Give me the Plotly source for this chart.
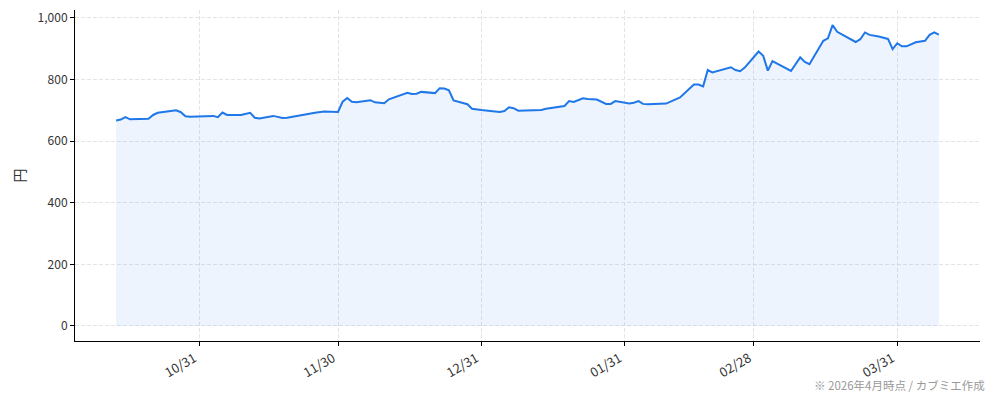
import pandas as pd
import plotly.graph_objects as go

# 株価の推移（チャートから読み取った値）
dates = [
    "2025-10-13", "2025-10-14", "2025-10-15", "2025-10-16", "2025-10-20", "2025-10-21",
    "2025-10-22", "2025-10-26", "2025-10-27", "2025-10-28", "2025-10-29", "2025-11-03",
    "2025-11-04", "2025-11-05", "2025-11-06", "2025-11-09", "2025-11-11", "2025-11-12",
    "2025-11-13", "2025-11-16", "2025-11-18", "2025-11-19", "2025-11-25", "2025-11-26",
    "2025-11-27", "2025-11-30", "2025-12-01", "2025-12-02", "2025-12-03", "2025-12-04",
    "2025-12-07", "2025-12-08", "2025-12-10", "2025-12-11", "2025-12-14", "2025-12-15",
    "2025-12-16", "2025-12-17", "2025-12-18", "2025-12-21", "2025-12-22", "2025-12-23",
    "2025-12-24", "2025-12-25", "2025-12-28", "2025-12-29", "2025-12-31", "2026-01-04",
    "2026-01-05", "2026-01-06", "2026-01-07", "2026-01-08", "2026-01-13", "2026-01-14",
    "2026-01-18", "2026-01-19", "2026-01-20", "2026-01-22", "2026-01-23", "2026-01-25",
    "2026-01-27", "2026-01-28", "2026-01-29", "2026-02-01", "2026-02-02", "2026-02-03",
    "2026-02-04", "2026-02-05", "2026-02-09", "2026-02-11", "2026-02-12", "2026-02-15",
    "2026-02-16", "2026-02-17", "2026-02-18", "2026-02-19", "2026-02-23", "2026-02-24",
    "2026-02-25", "2026-02-26", "2026-03-01", "2026-03-02", "2026-03-03", "2026-03-04",
    "2026-03-08", "2026-03-10", "2026-03-11", "2026-03-12", "2026-03-15", "2026-03-16",
    "2026-03-17", "2026-03-18", "2026-03-22", "2026-03-23", "2026-03-24", "2026-03-25",
    "2026-03-27", "2026-03-29", "2026-03-30", "2026-03-31", "2026-04-01", "2026-04-02",
    "2026-04-04", "2026-04-06", "2026-04-07", "2026-04-08", "2026-04-09",
]
prices = [
    667, 670, 678, 671, 673, 685,
    692, 700, 694, 681, 679, 682,
    678, 693, 685, 685, 692, 676,
    674, 682, 675, 676, 692, 693,
    696, 695, 728, 740, 728, 726,
    733, 726, 723, 736, 752, 757,
    753, 754, 760, 756, 772, 771,
    765, 732, 720, 705, 701, 695,
    698, 710, 707, 699, 701, 705,
    714, 730, 727, 739, 737, 735,
    721, 721, 730, 722, 725, 730,
    721, 720, 722, 735, 742, 784,
    784, 778, 831, 823, 840, 831,
    827, 839, 891, 877, 829, 860,
    828, 872, 857, 850, 926, 934,
    977, 955, 922, 931, 953, 945,
    940, 932, 899, 918, 908, 908,
    921, 926, 945, 953, 946,
]

tick_dates = ["2025-10-31", "2025-11-30", "2025-12-31", "2026-01-31", "2026-02-28", "2026-03-31"]
y_ticks = [0, 200, 400, 600, 800, 1000]

df = pd.DataFrame({"date": pd.to_datetime(dates), "price": prices})

# matplotlib風の5%マージン
span = df["date"].max() - df["date"].min()
x_range = [df["date"].min() - span * 0.05, df["date"].max() + span * 0.05]
ymax = df["price"].max()
y_range = [-ymax * 0.05, ymax * 1.05]

fig = go.Figure()
fig.add_trace(go.Scatter(
    x=df["date"], y=df["price"],
    mode="lines",
    line=dict(color="#1f77e8", width=2),
    fill="tozeroy",
    fillcolor="rgba(31,119,232,0.08)",
    showlegend=False,
))

# ページの余白(8px)を差し引いたサイズ
fig.update_layout(
    width=978, height=385,
    margin=dict(l=67, r=6, t=2, b=52),
    paper_bgcolor="white",
    plot_bgcolor="white",
    font=dict(family="Noto Sans CJK JP", size=12, color="#333333"),
    annotations=[dict(
        text="※ 2026年4月時点 / カブミエ作成",
        xref="paper", yref="paper", x=1.008, y=-0.133,
        xanchor="right", yanchor="middle", showarrow=False,
        font=dict(size=11.5, color="#999999"),
    )],
)

grid = dict(showgrid=True, gridcolor="#e4e4e4", griddash="4px,2px", gridwidth=1)

fig.update_xaxes(
    range=x_range,
    automargin=False,
    tickvals=pd.to_datetime(tick_dates),
    tickformat="%m/%d",
    tickangle=-30,
    ticklabelshift=-5,
    tickfont=dict(size=13),
    showline=True, linecolor="black", linewidth=1,
    ticks="outside", ticklen=4, tickcolor="black",
    zeroline=False,
    **grid,
)
fig.update_yaxes(
    range=y_range,
    automargin=False,
    tickvals=y_ticks,
    tickformat=",",
    title=dict(text="円", standoff=8),
    showline=True, linecolor="black", linewidth=1,
    ticks="outside", ticklen=4, tickcolor="black",
    zeroline=False,
    **grid,
)

fig.write_html("out.html")
